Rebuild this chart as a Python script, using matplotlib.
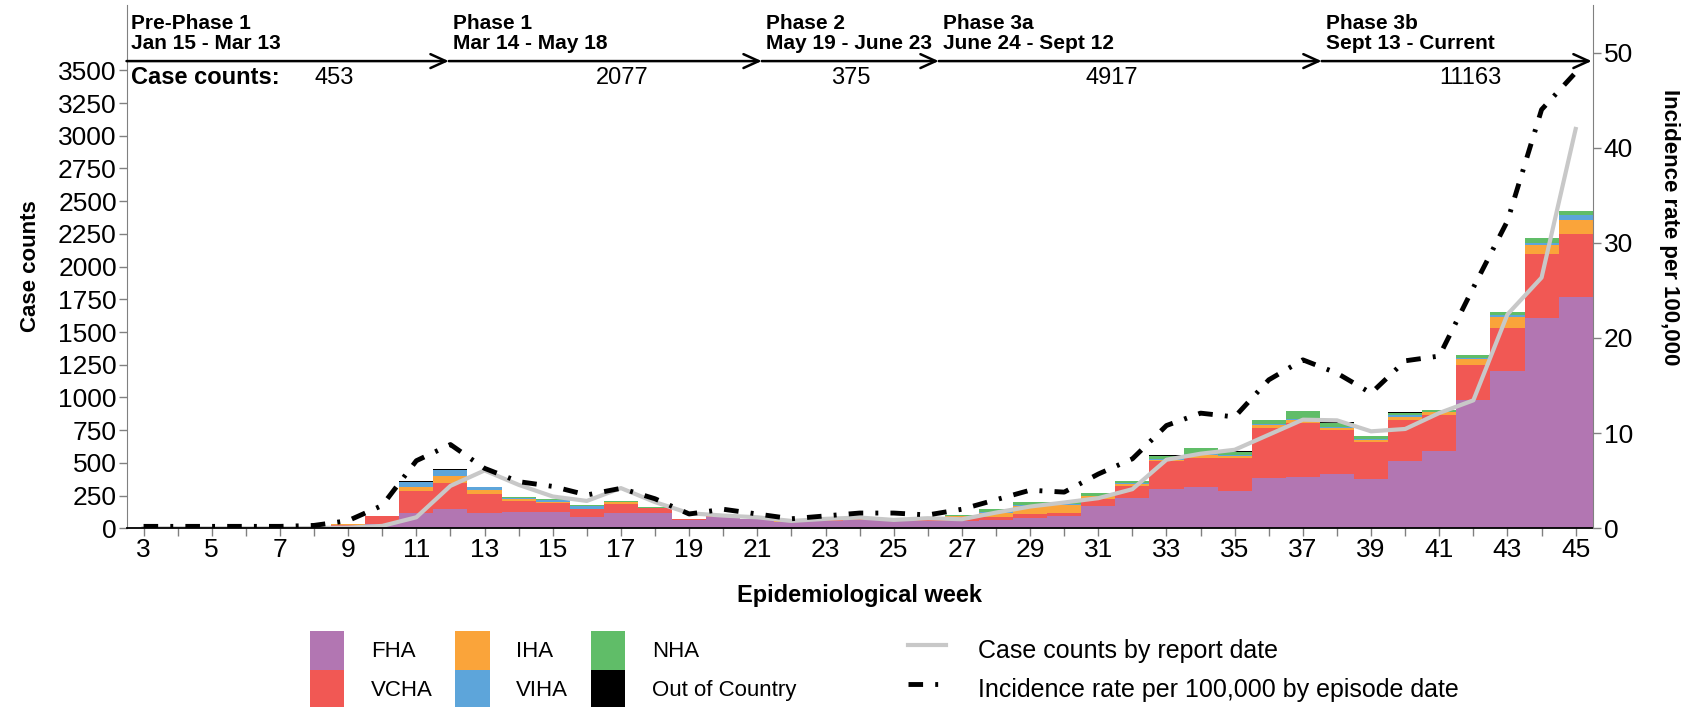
import matplotlib
matplotlib.use("Agg")
import matplotlib.pyplot as plt
from matplotlib.patches import Patch
from matplotlib.lines import Line2D
import numpy as np

plt.rcParams['font.family'] = ['Liberation Sans', 'DejaVu Sans']

#%% data
weeks = list(range(3, 46))

# cases by health authority (episode date), weeks 3..45
fha = [0, 0, 0, 0, 0, 0, 8, 30, 120, 146, 115, 128, 128, 89, 120, 120, 64, 85, 68, 47, 58, 62,
       60, 55, 55, 64, 77, 95, 171, 230, 301, 319, 288, 383, 391, 416, 375, 518, 587, 978, 1200, 1609, 1770]
vcha = [0, 0, 0, 0, 0, 3, 20, 60, 166, 199, 148, 81, 64, 57, 66, 33, 8, 5, 4, 4, 5, 8,
        8, 18, 30, 20, 33, 25, 51, 94, 210, 217, 248, 383, 414, 337, 281, 312, 281, 273, 333, 491, 483]
iha = [0, 0, 0, 0, 0, 0, 1, 3, 26, 56, 31, 18, 12, 5, 11, 3, 1, 2, 1, 1, 1, 2,
       2, 3, 6, 36, 64, 59, 21, 16, 13, 26, 13, 26, 25, 13, 21, 21, 18, 44, 84, 66, 102]
viha = [0, 0, 0, 0, 0, 0, 1, 2, 38, 41, 18, 8, 11, 18, 5, 2, 0, 0, 0, 0, 0, 0,
        0, 0, 2, 4, 5, 3, 5, 3, 8, 8, 8, 8, 8, 8, 5, 12, 5, 8, 12, 18, 40]
nha = [0, 0, 0, 0, 0, 0, 0, 0, 6, 6, 5, 4, 6, 8, 5, 5, 1, 2, 1, 0, 1, 1,
       1, 2, 6, 20, 18, 15, 18, 15, 22, 40, 28, 28, 55, 33, 22, 18, 14, 22, 24, 35, 28]
out_of_country = [0, 0, 0, 0, 0, 0, 0, 0, 4, 4, 2, 1, 1, 2, 2, 0, 0, 0, 0, 0, 0, 0,
                  0, 0, 1, 2, 2, 2, 2, 7, 3, 3, 2, 2, 6, 2, 3, 5, 2, 3, 2, 3, 3]

# case counts by report date (left axis)
report_counts = [0, 0, 0, 0, 0, 2, 5, 18, 84, 324, 442, 332, 243, 209, 307, 200, 115, 97, 84, 56, 72, 82,
                 64, 77, 69, 120, 166, 197, 230, 299, 524, 570, 600, 715, 830, 825, 741, 759, 881, 978, 1635, 1916, 3052]

# incidence rate per 100,000 by episode date (right axis)
incidence = [0.2, 0.2, 0.2, 0.2, 0.2, 0.3, 0.8, 2.4, 7.1, 8.8, 6.3, 4.9, 4.4, 3.5, 4.2, 3.1, 1.5, 2.0, 1.5, 1.0, 1.3, 1.6,
             1.6, 1.4, 2.0, 3.0, 4.0, 3.8, 5.7, 7.3, 10.8, 12.1, 11.7, 15.6, 17.7, 16.3, 14.2, 17.6, 18.1, 25.3, 32.3, 44.0, 47.9]

# phases (boundaries in epi-week units)
phase_names = ['Pre-Phase 1', 'Phase 1', 'Phase 2', 'Phase 3a', 'Phase 3b']
phase_dates = ['Jan 15 - Mar 13', 'Mar 14 - May 18', 'May 19 - June 23', 'June 24 - Sept 12', 'Sept 13 - Current']
phase_bounds = [2.5, 11.95, 21.13, 26.32, 37.55, 45.47]
phase_counts = [453, 2077, 375, 4917, 11163]

#%% plotting
series = [fha, vcha, iha, viha, nha, out_of_country]
names = ['FHA', 'VCHA', 'IHA', 'VIHA', 'NHA', 'Out of Country']
colours = ['#B276B2', '#F15854', '#FAA43A', '#5DA5DA', '#60BD68', '#000000']

fig = plt.figure(figsize=(16.96, 7.07), dpi=100)
ax = fig.add_axes([0.0746, 0.2528, 0.8645, 0.7402])

bottom = np.zeros(len(weeks))
for vals, col in zip(series, colours):
    ax.bar(weeks, vals, width=1.0, bottom=bottom, color=col, linewidth=0)
    bottom += np.array(vals)

ax.plot(weeks, report_counts, color='#c8c8c8', lw=3, solid_joinstyle='round')

ax.set_xlim(2.5, 45.5)
ax.set_ylim(0, 4000)
ax.set_yticks(range(0, 3501, 250))
ax.set_xticks(weeks)
ax.set_xticklabels([str(w) if w % 2 else '' for w in weeks])
ax.tick_params(axis='both', labelsize=19, length=6, color='#808080', width=1, pad=1)

for s in ['top', 'right']:
    ax.spines[s].set_visible(False)
ax.spines['left'].set_color('#808080')
ax.spines['bottom'].set_color('black')
ax.spines['bottom'].set_linewidth(1.3)

ax.set_xlabel('Epidemiological week', fontsize=17, fontweight='bold', labelpad=16)
ax.set_ylabel('Case counts', fontsize=16, fontweight='bold', labelpad=12)

# right axis: incidence
ax2 = ax.twinx()
ax2.plot(weeks, incidence, color='black', lw=3.5, dashes=(3, 2.5, 0.6, 2.5))
ax2.set_ylim(0, 55)
ax2.set_yticks(range(0, 51, 10))
ax2.tick_params(axis='y', labelsize=19, length=6, color='#808080', width=1, pad=2)
for s in ['top', 'left', 'bottom']:
    ax2.spines[s].set_visible(False)
ax2.spines['right'].set_color('#808080')
ax2.set_ylabel('Incidence rate per 100,000', rotation=270, ha='center', va='center',
               fontsize=16, fontweight='bold')
ax2.yaxis.set_label_coords(1.0527, 0.576)

# phase arrows + labels along the top
arrow_y = 49.1
for i in range(len(phase_names)):
    x0, x1 = phase_bounds[i], phase_bounds[i + 1]
    ax2.annotate('', xy=(x1, arrow_y), xytext=(x0, arrow_y),
                 arrowprops=dict(arrowstyle='->,head_length=1.1,head_width=0.5',
                                 lw=1.8, color='black', shrinkA=0, shrinkB=0, mutation_scale=10),
                 annotation_clip=False)
    ax2.text(x0 + 0.13, 52.5, phase_names[i], fontsize=15, fontweight='bold', va='baseline')
    ax2.text(x0 + 0.13, 50.4, phase_dates[i], fontsize=15, fontweight='bold', va='baseline')

ax2.text(phase_bounds[0] + 0.13, 46.7, 'Case counts:', fontsize=17, fontweight='bold', va='baseline')
count_x = [8.6, 17.05, 23.74, 31.4, 41.9]
for cx, c in zip(count_x, phase_counts):
    ax2.text(cx, 46.7, str(c), fontsize=17, ha='center', va='baseline')

# legends
patch_handles = [Patch(facecolor=c, edgecolor='none', label=n) for c, n in zip(colours, names)]
fig.legend(handles=patch_handles, ncol=3, loc='upper left', bbox_to_anchor=(0.1828, 0.1075),
           frameon=False, fontsize=16, handlelength=1.55, handleheight=2.32, handletextpad=1.2,
           columnspacing=1.0, labelspacing=0, borderpad=0, borderaxespad=0)

line_handles = [Line2D([], [], color='#c8c8c8', lw=3, label='Case counts by report date'),
                Line2D([], [], color='black', lw=3.5, dashes=(3, 2.5, 0.6, 2.5),
                       label='Incidence rate per 100,000 by episode date')]
fig.legend(handles=line_handles, ncol=1, loc='upper left', bbox_to_anchor=(0.5354, 0.1075),
           frameon=False, fontsize=18, handlelength=1.5, handleheight=2.02, handletextpad=1.3,
           labelspacing=0, borderpad=0, borderaxespad=0)

fig.savefig('out.png', dpi=100)
